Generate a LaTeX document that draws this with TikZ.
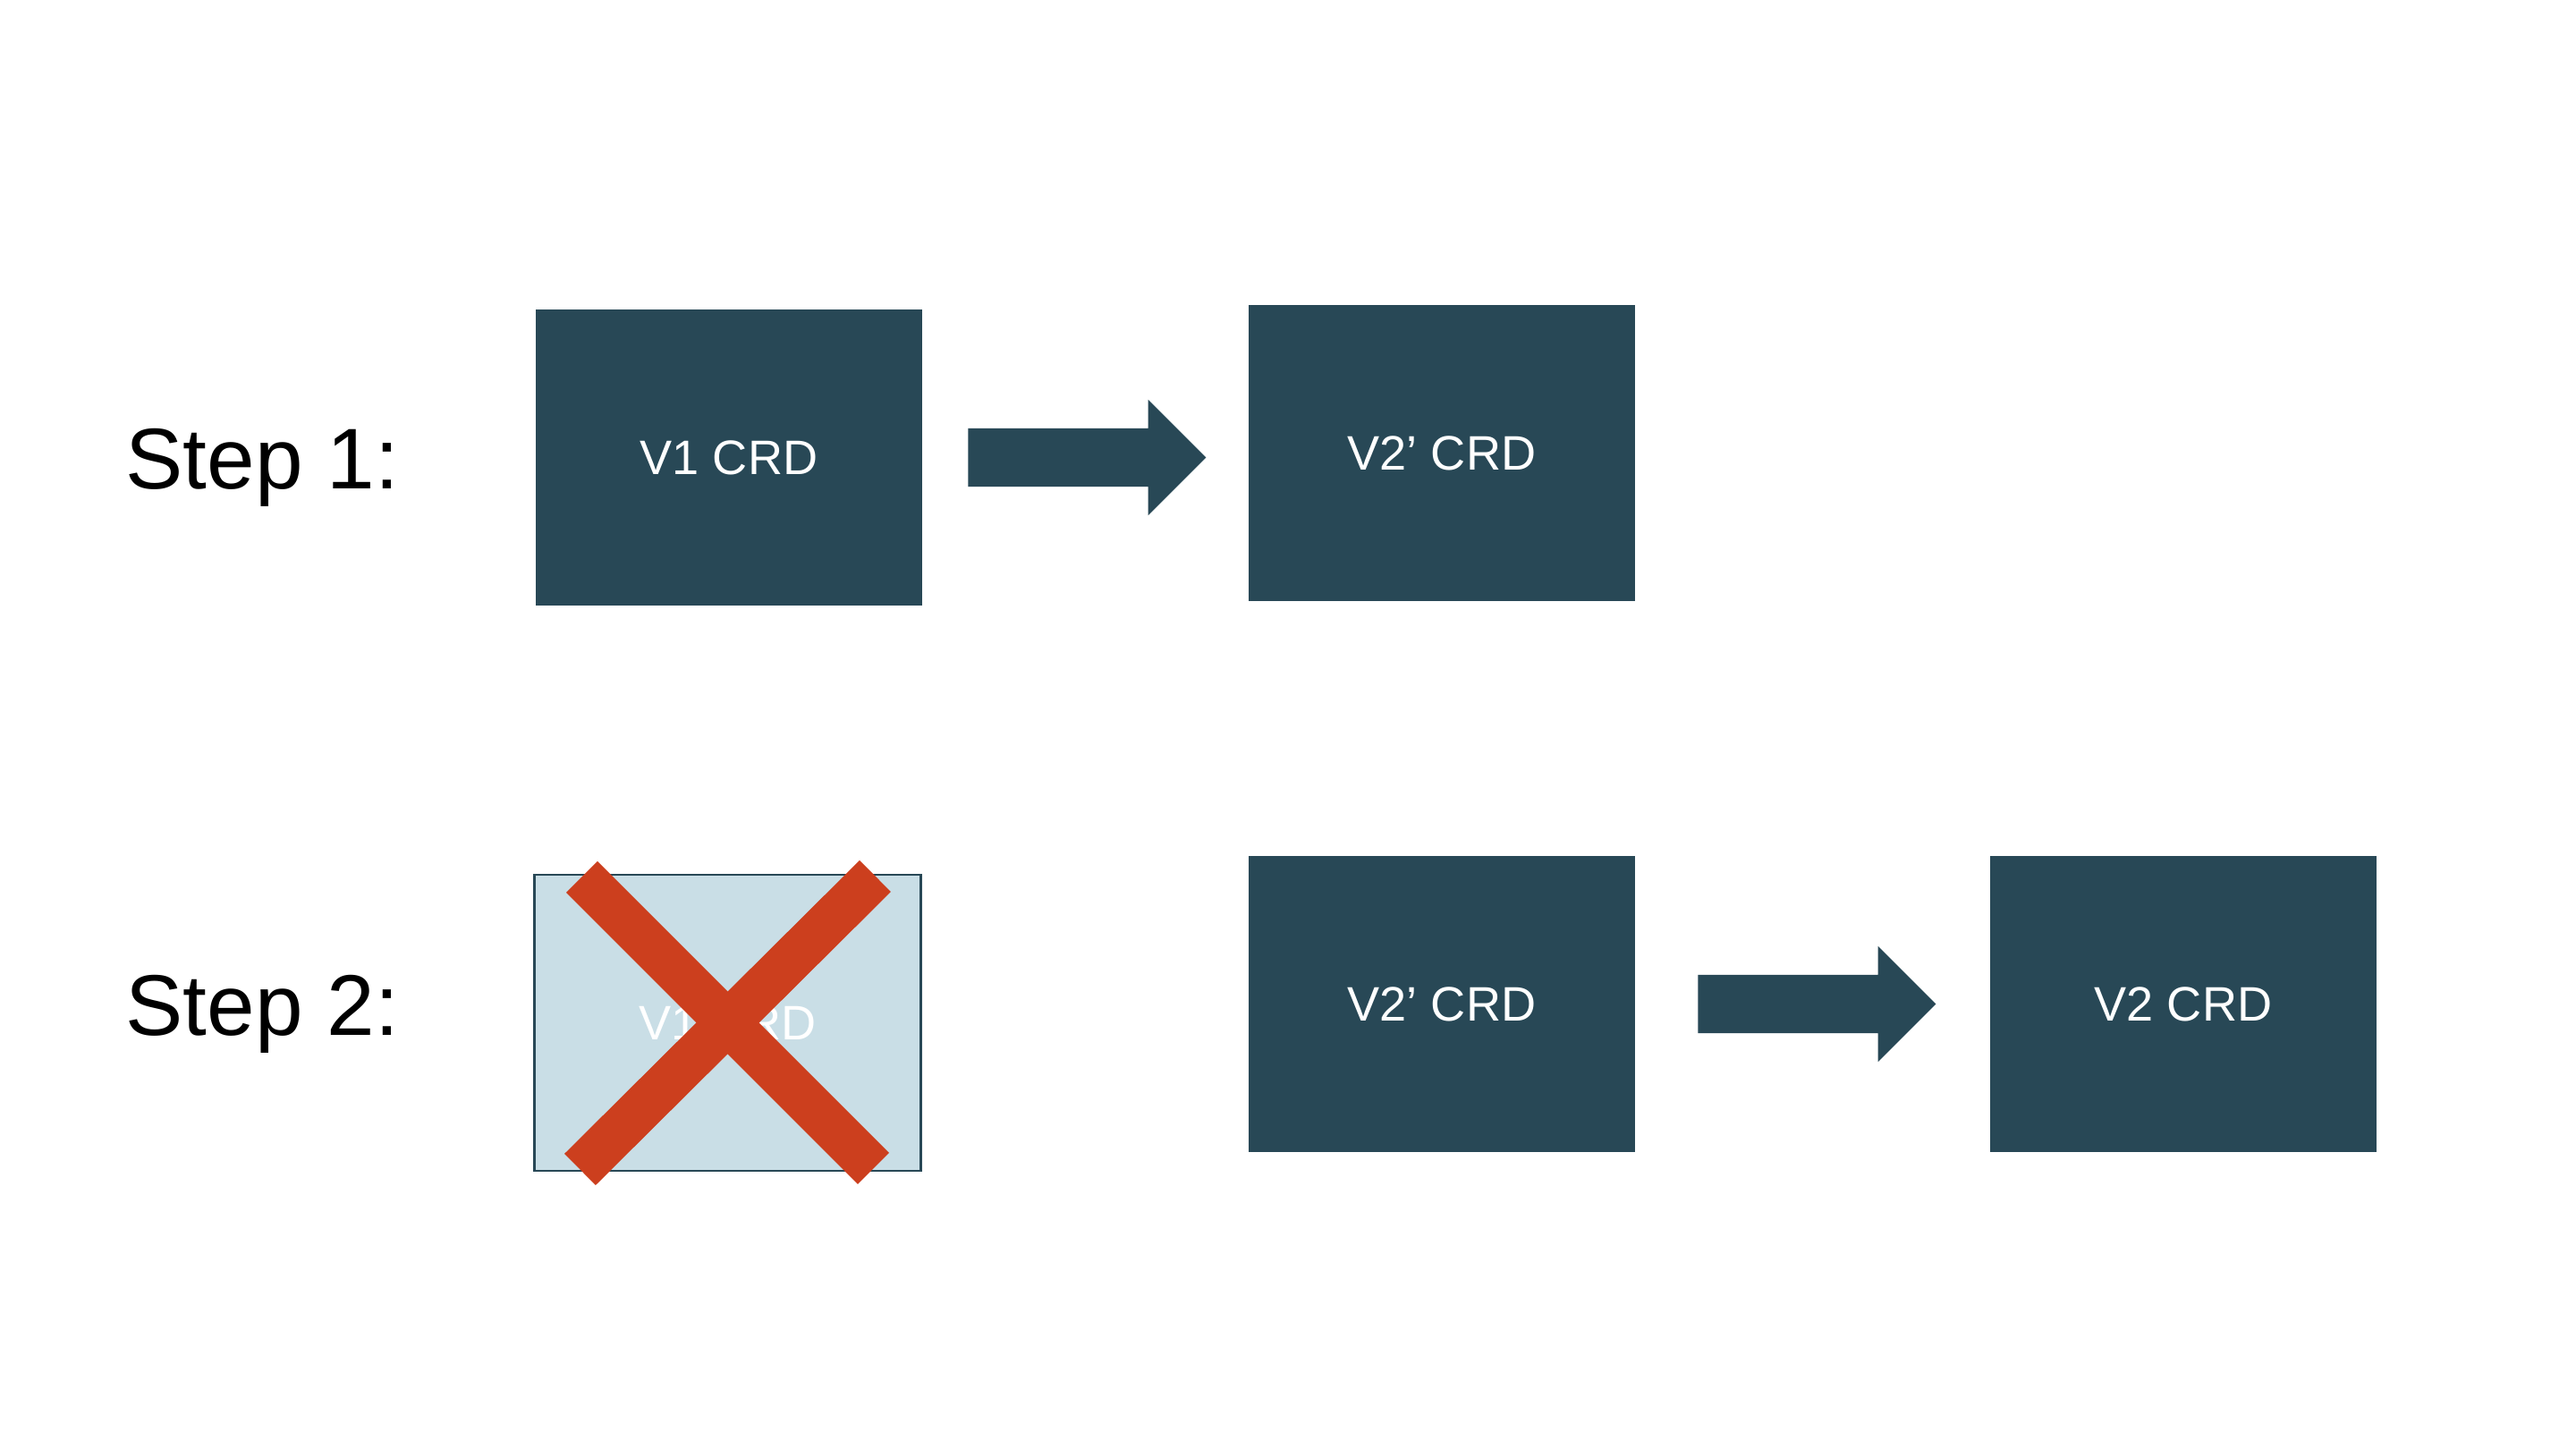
\documentclass[tikz,border=0pt]{standalone}
\usepackage{fontspec}
\setmainfont{Liberation Sans}
\usepackage{color}
\definecolor{crdblue}{HTML}{284856}
\definecolor{oldblue}{HTML}{C9DEE6}
\definecolor{crossred}{HTML}{CC3F1E}
\usepackage{tikz}
\usetikzlibrary{calc}
\usetikzlibrary{shapes}
\usetikzlibrary{positioning}

\begin{document}
\begin{tikzpicture}[x=1cm,y=1cm,
	crd/.style={rectangle,fill=crdblue,text=white,inner sep=0pt,minimum width=4.32cm,minimum height=3.31cm,font=\fontsize{15.4}{18}\selectfont},
	oldcrd/.style={crd,fill=oldblue,draw=crdblue,line width=0.7pt},
	blockarrow/.style={single arrow,anchor=tail,fill=crdblue,inner xsep=0pt,inner ysep=0.32cm,minimum height=2.66cm,minimum width=1.28cm,single arrow head extend=0.32cm,single arrow tip angle=90},
	steplabel/.style={anchor=base west,inner sep=0pt,font=\fontsize{27.4}{33}\selectfont}]
				\useasboundingbox (0,0) rectangle (28.8,16.2);
				\node[steplabel] (STEP_ONE) at (1.40,10.73) {Step 1:};
				\node[steplabel] (STEP_TWO) at (1.40,4.62) {Step 2:};
				\node[crd] (V1) at (8.15,11.085) {V1 CRD};
				\node[crd] (V2P_TOP) at (16.12,11.13) {V2’ CRD};
				\node[oldcrd] (V1_OLD) at (8.135,4.765) {V1 CRD};
				\node[crd] (V2P_BOTTOM) at (16.12,4.975) {V2’ CRD};
				\node[crd] (V2) at (24.41,4.975) {V2 CRD};
				\node[blockarrow] (ARROW_ONE) at ($(V1.east)+(0.50,0)$) {};
				\node[blockarrow] (ARROW_TWO) at ($(V2P_BOTTOM.east)+(0.69,0)$) {};
				% V1 CRD is dropped in step 2
				\draw[crossred,line width=0.495cm] ($(V1_OLD)+(-1.63,1.63)$) -- ($(V1_OLD)+(1.63,-1.63)$);
				\draw[crossred,line width=0.495cm] ($(V1_OLD)+(1.65,1.64)$) -- ($(V1_OLD)+(-1.65,-1.64)$);
\end{tikzpicture}
\end{document}
